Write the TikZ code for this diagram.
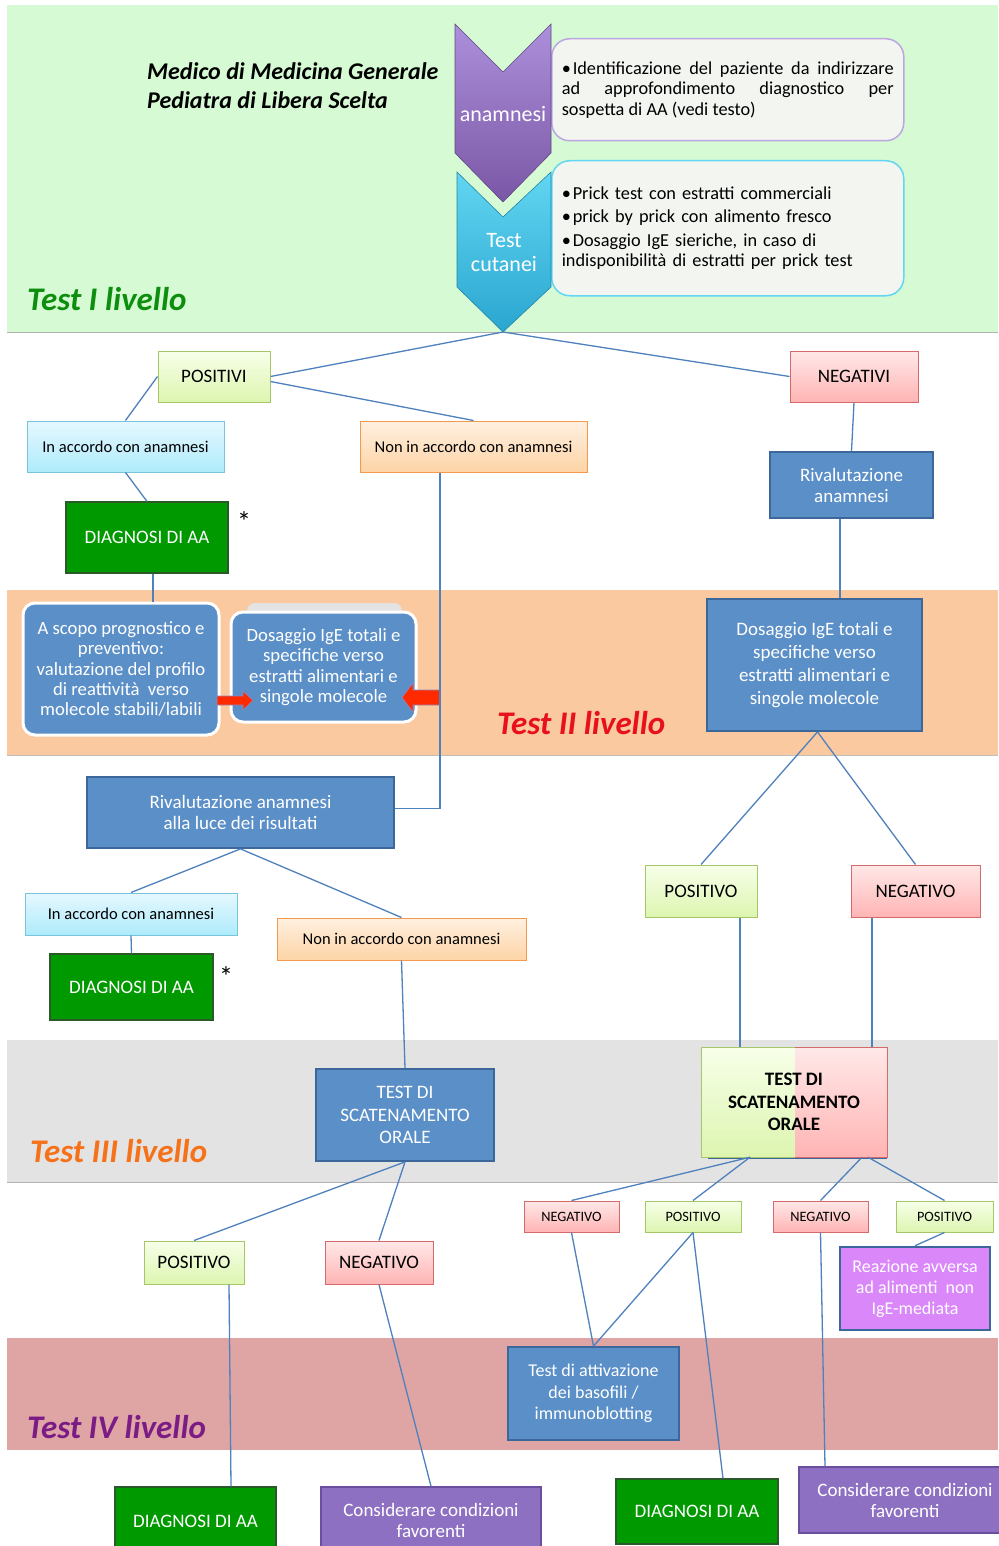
\documentclass[tikz,border=0pt]{standalone}
\usepackage{fontspec}
\setmainfont{Carlito}
\usetikzlibrary{calc}
\definecolor{bandGreen}{HTML}{D6FBD4}
\definecolor{bandOrange}{HTML}{FAC9A0}
\definecolor{bandGray}{HTML}{E3E3E3}
\definecolor{bandPink}{HTML}{DFA5A4}
\definecolor{lineblue}{HTML}{4F81BD}
\definecolor{boxblue}{HTML}{5B8FC8}
\definecolor{boxborder}{HTML}{3C679A}
\definecolor{diagGreen}{HTML}{009900}
\definecolor{diagBorder}{HTML}{2A5A2A}
\definecolor{posT}{HTML}{F7FFE9}
\definecolor{posBo}{HTML}{DDF5B0}
\definecolor{posB}{HTML}{A6C66A}
\definecolor{negT}{HTML}{FFE8E8}
\definecolor{negBo}{HTML}{FFB4B4}
\definecolor{negB}{HTML}{D46A6A}
\definecolor{accT}{HTML}{E6F8FF}
\definecolor{accBo}{HTML}{AEEBFB}
\definecolor{accB}{HTML}{78C4DC}
\definecolor{naccT}{HTML}{FFF0E0}
\definecolor{naccBo}{HTML}{FDD4A6}
\definecolor{naccB}{HTML}{F39A4E}
\definecolor{purpFill}{HTML}{8E70C2}
\definecolor{purpBorder}{HTML}{6B4F9E}
\definecolor{reazFill}{HTML}{DA87FA}
\definecolor{titleGreen}{HTML}{0E8E0E}
\definecolor{titleRed}{HTML}{E8101A}
\definecolor{titleOrange}{HTML}{F5721A}
\definecolor{titlePurple}{HTML}{7B1B85}
\definecolor{chevPT}{HTML}{AC8FDA}
\definecolor{chevPB}{HTML}{7A57A6}
\definecolor{chevCT}{HTML}{62D6F2}
\definecolor{chevCB}{HTML}{2AA6D0}
\definecolor{infoFill}{HTML}{F3F5F1}
\definecolor{arrowRed}{HTML}{FF2A00}
\newcommand\fz[2]{\fontsize{#1pt}{#2pt}\selectfont}
\pgfdeclarelayer{bg}
\pgfsetlayers{bg,main}
\tikzset{
  conn/.style={draw=lineblue, line width=1.3pt},
  lbl/.style={rectangle, align=center, inner sep=1pt},
  posbox/.style={lbl, draw=posB, line width=1pt, top color=posT, bottom color=posBo, font=\fz{19}{22}},
  negbox/.style={lbl, draw=negB, line width=1pt, top color=negT, bottom color=negBo, font=\fz{19}{22}},
  smallpos/.style={posbox, font=\fz{14.3}{17}},
  smallneg/.style={negbox, font=\fz{14.3}{17}},
  accbox/.style={lbl, draw=accB, line width=1pt, top color=accT, bottom color=accBo, font=\fz{16.5}{19}},
  naccbox/.style={lbl, draw=naccB, line width=1pt, top color=naccT, bottom color=naccBo, font=\fz{16.5}{19}},
  diagbox/.style={lbl, fill=diagGreen, draw=diagBorder, line width=1.2pt, text=white, font=\fz{19}{22}},
  bluebox/.style={lbl, fill=boxblue, draw=boxborder, line width=1.8pt, text=white, font=\fz{19}{23}},
  roundblue/.style={lbl, fill=boxblue, draw=white, line width=3pt, rounded corners=12pt, text=white, font=\fz{18.7}{20.3}},
  purpbox/.style={lbl, fill=purpFill, draw=purpBorder, line width=1.5pt, text=white, font=\fz{19}{21}},
  title/.style={anchor=base west, inner sep=0pt, font=\fz{33}{36}\bfseries\itshape},
  infobox/.style={rectangle, rounded corners=18pt, fill=infoFill, line width=1.5pt, inner xsep=6pt, font=\fz{18.3}{20.5}},
  chevtext/.style={align=center, text=white, inner sep=0pt, font=\fz{22}{24}},
}
\newcommand\bul{\hangindent=11pt\hangafter=1\noindent\makebox[11pt][l]{\textbullet}}
\begin{document}
\begin{tikzpicture}[x=1pt,y=-1pt]
\useasboundingbox (0,0) rectangle (998,1546);
\begin{pgfonlayer}{bg}
\fill[white] (0,0) rectangle (998,1546);
\fill[bandGreen] (7,5) rectangle (998,332);
\draw[gray!60, line width=1pt] (7,332) -- (998,332);
\fill[bandOrange] (7,590) rectangle (998,755);
\draw[gray!50, line width=1pt] (7,755) -- (998,755);
\fill[bandGray] (7,1040) rectangle (998,1182);
\draw[gray!60, line width=1pt] (7,1182) -- (998,1182);
\fill[bandPink] (7,1338) rectangle (998,1450);
\end{pgfonlayer}

% titles
\node[title, text=titleGreen] (t1) at (27,310) {Test I livello};
\node[title, text=titleRed] (t2) at (497,734) {Test II livello};
\node[title, text=titleOrange] (t3) at (30,1162) {Test III livello};
\node[title, text=titlePurple] (t4) at (27,1438) {Test IV livello};
\node[anchor=north west, align=left, inner sep=0pt, font=\fz{24}{29}\bfseries\itshape] (medico) at (147,62)
  {Medico di Medicina Generale\\Pediatra di Libera Scelta};

% info boxes
\node[infobox, draw=chevPT!80, minimum width=352pt, minimum height=102pt, text width=332pt, align=justify, anchor=north west] (info1) at (551,38)
  {\bul Identificazione del paziente da indirizzare\linebreak ad approfondimento diagnostico per\linebreak sospetta di AA (vedi testo)};
\node[infobox, draw=chevCT, minimum width=352pt, minimum height=135pt, text width=332pt, align=left, anchor=north west] (info2) at (551,160)
  {\parskip=3pt\bul Prick test con estratti commerciali\par\bul prick by prick con alimento fresco\par\bul Dosaggio IgE sieriche, in caso di\\indisponibilità di estratti per prick test};

% chevrons
\path[top color=chevCT, bottom color=chevCB, draw=chevCB!80!black, line width=0.6pt]
  (457,172) -- (503,217) -- (551,172) -- (551,287) -- (503,332) -- (457,287) -- cycle;
\path[top color=chevPT, bottom color=chevPB, draw=chevPB!80!black, line width=0.6pt]
  (455,24) -- (503,72) -- (551,24) -- (551,153) -- (503,202) -- (455,153) -- cycle;
\node[chevtext] (anam) at (503,114) {anamnesi};
\node[chevtext] (cut) at (504,253) {Test\\cutanei};
\coordinate (tip) at (503,332);

% level I nodes
\node[posbox, minimum width=112pt, minimum height=51pt] (positivi) at (214,376.5) {POSITIVI};
\node[negbox, minimum width=128pt, minimum height=51pt] (negativi) at (854,376.5) {NEGATIVI};
\node[accbox, minimum width=197pt, minimum height=51pt] (acc1) at (125.5,446.5) {In accordo con anamnesi};
\node[naccbox, minimum width=227pt, minimum height=51pt] (nacc1) at (473.5,446.5) {Non in accordo con anamnesi};
\node[diagbox, minimum width=162pt, minimum height=71pt] (diag1) at (147,537.5) {DIAGNOSI DI AA};
\node[font=\fz{28}{28}, inner sep=0pt] (ast1) at (244,522) {*};
\node[bluebox, minimum width=163pt, minimum height=66pt, font=\fz{19}{21}] (riv1) at (851.5,485) {Rivalutazione\\anamnesi};

% level II
\node[roundblue, minimum width=196pt, minimum height=132pt] (scopo) at (121,669)
  {A scopo prognostico e\\preventivo:\\valutazione del profilo\\di reattività\ \ verso\\molecole stabili/labili};
\fill[gray!22, rounded corners=8pt] (247,603) rectangle (402,630);
\node[roundblue, minimum width=185pt, minimum height=110pt] (dosL) at (323.5,667)
  {Dosaggio IgE totali e\\specifiche verso\\estratti alimentari e\\singole molecole};
\node[bluebox, minimum width=215pt, minimum height=132pt, font=\fz{19}{23}] (dosR) at (814.5,665)
  {Dosaggio IgE totali e\\specifiche verso\\estratti alimentari e\\singole molecole};
% red block arrows
\path[fill=arrowRed, draw=purpBorder!70, line width=0.6pt]
  (217,696) -- (243,696) -- (243,691) -- (253,700.5) -- (243,710) -- (243,705) -- (217,705) -- cycle;
\path[fill=arrowRed, draw=purpBorder!70, line width=0.6pt]
  (440,690) -- (413,690) -- (413,683) -- (402,697.5) -- (413,712) -- (413,705) -- (440,705) -- cycle;

\node[bluebox, minimum width=307pt, minimum height=71pt, font=\fz{19}{21}] (riv2) at (240.5,812.5)
  {Rivalutazione anamnesi\\alla luce dei risultati};
\node[accbox, minimum width=212pt, minimum height=42pt] (acc2) at (131,914) {In accordo con anamnesi};
\node[naccbox, minimum width=249pt, minimum height=42pt] (nacc2) at (401.5,939) {Non in accordo con anamnesi};
\node[diagbox, minimum width=163pt, minimum height=66pt] (diag2) at (131.5,987) {DIAGNOSI DI AA};
\node[font=\fz{28}{28}, inner sep=0pt] (ast2) at (226,977) {*};
\node[posbox, minimum width=112pt, minimum height=52pt] (pos1) at (701,891) {POSITIVO};
\node[negbox, minimum width=129pt, minimum height=52pt] (neg1) at (915.5,891) {NEGATIVO};

% level III
\node[bluebox, minimum width=178pt, minimum height=92pt, font=\fz{19}{22.5}] (scat1) at (405,1115)
  {TEST DI\\SCATENAMENTO\\ORALE};
\fill[top color=posT, bottom color=posBo] (701,1047) rectangle (795,1157);
\fill[top color=negT, bottom color=negBo] (795,1047) rectangle (887,1157);
\draw[posB, line width=1pt] (795,1047) -- (701,1047) -- (701,1157) -- (795,1157);
\draw[negB, line width=1pt] (795,1047) -- (887,1047) -- (887,1157) -- (795,1157);
\draw[boxborder, line width=1.5pt] (708,1158.5) -- (887,1158.5);
\node[lbl, minimum width=186pt, minimum height=110pt, font=\fz{19}{22.5}\bfseries] (scat2) at (794,1102)
  {TEST DI\\SCATENAMENTO\\ORALE};

\node[posbox, minimum width=100pt, minimum height=43pt] (pos2) at (194,1262.5) {POSITIVO};
\node[negbox, minimum width=108pt, minimum height=43pt] (neg2) at (379,1262.5) {NEGATIVO};
\node[smallneg, minimum width=95pt, minimum height=31pt] (neg3) at (571.5,1216.5) {NEGATIVO};
\node[smallpos, minimum width=96pt, minimum height=31pt] (pos3) at (693,1216.5) {POSITIVO};
\node[smallneg, minimum width=95pt, minimum height=31pt] (neg4) at (820.5,1216.5) {NEGATIVO};
\node[smallpos, minimum width=97pt, minimum height=31pt] (pos4) at (944.5,1216.5) {POSITIVO};
\node[lbl, fill=reazFill, draw=boxborder, line width=2.5pt, text=white, font=\fz{18}{21},
  minimum width=150pt, minimum height=83pt] (reaz) at (915,1288.5)
  {Reazione avversa\\ad alimenti\ \ non\\IgE-mediata};

% level IV
\node[bluebox, minimum width=171pt, minimum height=93pt, font=\fz{18}{21.5}] (tab) at (593.5,1393.5)
  {Test di attivazione\\dei basofili /\\immunoblotting};
\node[diagbox, minimum width=161pt, minimum height=68pt] (diag3) at (195.5,1521) {DIAGNOSI DI AA};
\node[purpbox, minimum width=220pt, minimum height=66pt] (cons1) at (431,1520)
  {Considerare condizioni\\favorenti};
\node[diagbox, minimum width=162pt, minimum height=65pt] (diag4) at (697,1511.5) {DIAGNOSI DI AA};
\node[purpbox, minimum width=212pt, minimum height=66pt] (cons2) at (905,1500)
  {Considerare condizioni\\favorenti};

% connectors
\draw[conn] (tip) -- (positivi.east);
\draw[conn] (tip) -- (negativi.west);
\draw[conn] ([yshift=-5pt]positivi.east) -- (nacc1.north);
\draw[conn] (positivi.west) -- (acc1.north);
\draw[conn] (acc1.south) -- (diag1.north);
\draw[conn] ([xshift=6pt]diag1.south) -- ([xshift=32pt]scopo.north);
\draw[conn] ([xshift=-33.5pt]nacc1.south) |- ([yshift=4pt]riv2.east);
\draw[conn] (negativi.south) -- (riv1.north);
\draw[conn] ([xshift=-11.5pt]riv1.south) -- ([xshift=25.5pt]dosR.north);
\draw[conn] ([xshift=3pt]dosR.south) -- (pos1.north);
\draw[conn] ([xshift=3pt]dosR.south) -- (neg1.north);
\draw[conn] (riv2.south) -- (acc2.north);
\draw[conn] (riv2.south) -- (nacc2.north);
\draw[conn] (acc2.south) -- (diag2.north);
\draw[conn] (nacc2.south) -- (scat1.north);
\draw[conn] ([xshift=39pt]pos1.south) -- ([xshift=-54pt]scat2.north);
\draw[conn] ([xshift=-43.5pt]neg1.south) -- ([xshift=78pt]scat2.north);
\draw[conn] (scat1.south) -- (pos2.north);
\draw[conn] (scat1.south) -- (neg2.north);
\draw[conn] ([xshift=35pt]pos2.south) -- ([xshift=35.5pt]diag3.north);
\draw[conn] (neg2.south) -- (cons1.north);
\draw[conn] ([xshift=-44pt]scat2.south) -- (neg3.north);
\draw[conn] ([xshift=-44pt]scat2.south) -- (pos3.north);
\draw[conn] ([xshift=68pt]scat2.south) -- (neg4.north);
\draw[conn] ([xshift=74pt]scat2.south) -- (pos4.north);
\draw[conn] (neg3.south) -- (tab.north);
\draw[conn] (pos3.south) -- (tab.north);
\draw[conn] (pos3.south) -- ([xshift=26pt]diag4.north);
\draw[conn] (neg4.south) -- ([xshift=-80pt]cons2.north);
\draw[conn] (pos4.south) -- (reaz.north);
\end{tikzpicture}
\end{document}
